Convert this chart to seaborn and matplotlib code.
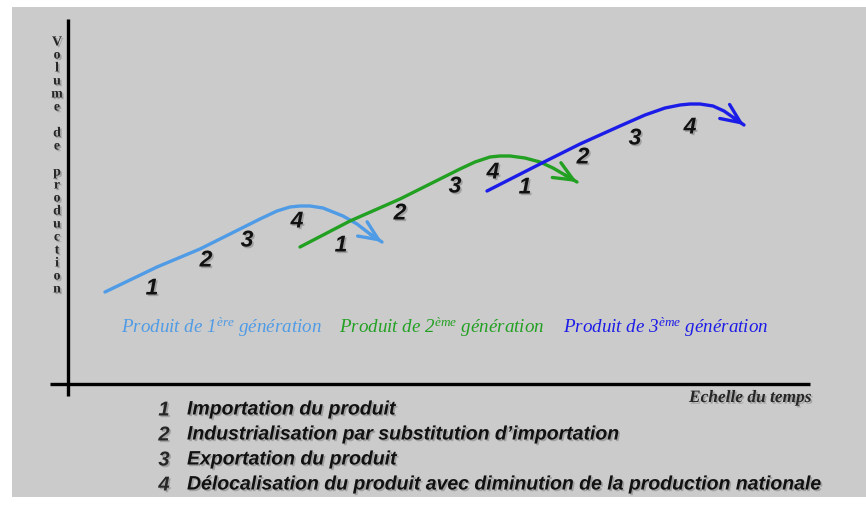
import numpy as np
import pandas as pd
import matplotlib.pyplot as plt
import seaborn as sns
from matplotlib import patheffects
from matplotlib.patches import Rectangle

sns.set_style("white")
plt.rcParams['font.family'] = ['Liberation Sans', 'DejaVu Sans']
plt.rcParams['mathtext.fontset'] = 'custom'
plt.rcParams['mathtext.rm'] = 'Liberation Serif'
plt.rcParams['mathtext.it'] = 'Liberation Serif:italic'

# curves (time, volume), arbitrary units
gen1_t = [3.7, 6.2, 8.9, 13.2, 17.2, 19.2, 20.9, 22.2, 23.2, 24.2, 25.5, 27.5, 28.9, 30.2, 31.4]
gen1_v = [9.2, 10.4, 11.7, 13.5, 15.5, 16.5, 17.3, 17.7, 17.8, 17.8, 17.6, 16.8, 16.0, 15.0, 14.2]
gen2_t = [23.2, 28.2, 33.2, 37.2, 39.2, 40.7, 42.2, 43.2, 44.2, 45.7, 47.2, 48.5, 49.7, 50.9]
gen2_v = [13.7, 16.3, 18.5, 20.5, 21.5, 22.2, 22.7, 22.8, 22.8, 22.6, 22.2, 21.6, 20.9, 20.2]
gen3_t = [41.9, 47.2, 51.2, 55.2, 57.7, 59.7, 61.2, 62.2, 63.2, 64.5, 65.6, 66.6, 67.6]
gen3_v = [19.3, 22.0, 24.0, 25.8, 26.9, 27.6, 27.9, 28.0, 28.0, 27.8, 27.3, 26.6, 25.9]

# phase numbers along each curve
phase_numbers = ['1', '2', '3', '4']
gen1_num_t = [8.4, 13.8, 17.9, 22.9]
gen1_num_v = [9.6, 12.4, 14.4, 16.3]
gen2_num_t = [27.3, 33.2, 38.7, 42.5]
gen2_num_v = [13.9, 17.1, 19.8, 21.2]
gen3_num_t = [45.7, 51.5, 56.7, 62.2]
gen3_num_v = [19.7, 22.7, 24.6, 25.7]

generations = ['1', '2', '3']
gen_labels = [r'Produit de 1$^{\mathit{ère}}$ génération',
              r'Produit de 2$^{\mathit{ème}}$ génération',
              r'Produit de 3$^{\mathit{ème}}$ génération']
gen_colors = ['#4f9be6', '#22a022', '#1c1ce8']
gen_label_t = [5.3, 27.1, 49.5]

legend_items = ['Importation du produit',
                'Industrialisation par substitution d\u2019importation',
                'Exportation du produit',
                'Délocalisation du produit avec diminution de la production nationale']

df = pd.concat([
    pd.DataFrame({'temps': gen1_t, 'volume': gen1_v, 'gen': '1'}),
    pd.DataFrame({'temps': gen2_t, 'volume': gen2_v, 'gen': '2'}),
    pd.DataFrame({'temps': gen3_t, 'volume': gen3_v, 'gen': '3'}),
])

fig = plt.figure(figsize=(8.66, 5.06), dpi=100)
fig.patch.set_facecolor('white')
# grey panel behind the drawing
fig.patches.append(Rectangle((12 / 866, 8 / 506), 1 - 12 / 866, 490 / 506,
                             transform=fig.transFigure, facecolor='#cbcbcb',
                             edgecolor='none', zorder=-10))
ax = fig.add_axes([0, 0, 1, 1])
ax.set_facecolor('none')
ax.set_xlim(-6.8, 79.8)
ax.set_ylim(-12.1, 38.5)
ax.axis('off')

# axes drawn by hand, crossing with overshoot
ax.plot([0, 0], [-1.2, 36.5], color='black', lw=2.4, solid_capstyle='butt')
ax.plot([-1.8, 74.2], [0, 0], color='black', lw=2.4, solid_capstyle='butt')

palette = dict(zip(generations, gen_colors))
sns.lineplot(data=df, x='temps', y='volume', hue='gen', palette=palette,
             sort=False, estimator=None, lw=2.4, legend=False, ax=ax)

# open arrow heads at the end of each curve
for t, v, c in [(gen1_t, gen1_v, gen_colors[0]), (gen2_t, gen2_v, gen_colors[1]),
                (gen3_t, gen3_v, gen_colors[2])]:
    ax.annotate('', xy=(t[-1], v[-1]), xytext=(t[-2], v[-2]),
                arrowprops=dict(arrowstyle='->,head_length=0.5,head_width=0.22',
                                color=c, lw=2.4, shrinkA=0, shrinkB=0,
                                mutation_scale=28))

shadow = [patheffects.withSimplePatchShadow(offset=(1.2, -1.2), shadow_rgbFace='#555555', alpha=0.35)]

for nt, nv in [(gen1_num_t, gen1_num_v), (gen2_num_t, gen2_num_v), (gen3_num_t, gen3_num_v)]:
    for lab, x, y in zip(phase_numbers, nt, nv):
        ax.text(x, y, lab, fontsize=16.5, style='italic', weight='bold', color='#111111',
                ha='center', va='center', path_effects=shadow)

for lab, x, c in zip(gen_labels, gen_label_t, gen_colors):
    ax.text(x, 5.8, lab, fontsize=13.7, style='italic', family='Liberation Serif',
            color=c, ha='left', va='center')

# vertical axis title, one letter per line
ylabel = 'Volume de production'
for i, ch in enumerate(ylabel):
    ax.text(-1.1, 34.2 - i * 1.3, ch, fontsize=10, weight='bold', family='Liberation Serif',
            ha='center', va='center', path_effects=shadow)

ax.text(74.4, -1.4, 'Echelle du temps', fontsize=12.5, style='italic', weight='bold',
        family='Liberation Serif', ha='right', va='center', path_effects=shadow)

for i, item in enumerate(legend_items):
    y = -2.6 - i * 2.5
    ax.text(9.6, y, str(i + 1), fontsize=14.5, style='italic', weight='bold',
            ha='center', va='center', path_effects=shadow)
    ax.text(11.9, y, item, fontsize=14, style='italic', weight='bold', color='#111111',
            ha='left', va='center', path_effects=shadow)

plt.savefig('out.png', dpi=100)
